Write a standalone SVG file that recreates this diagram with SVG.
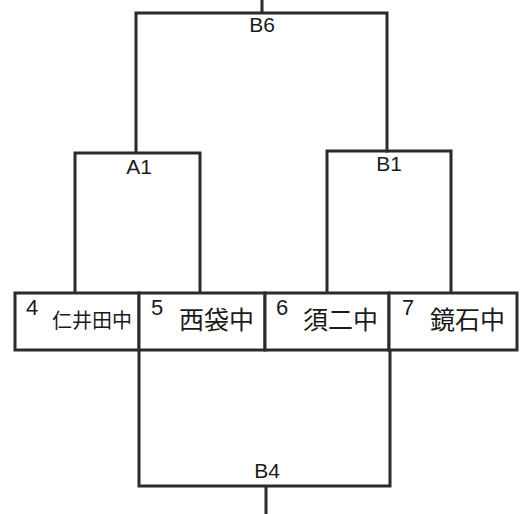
<svg xmlns="http://www.w3.org/2000/svg" width="523" height="514" viewBox="0 0 523 514">
<style>
.ln{fill:none;stroke:#2b2b2b;stroke-width:3;stroke-linecap:square}
.box{fill:#fff;stroke:#2b2b2b;stroke-width:3}
.lab{font-family:"Liberation Sans",Arial,sans-serif;font-size:21px;fill:#1a1a1a;text-anchor:middle}
.num{font-family:"Liberation Sans",Arial,sans-serif;font-size:22px;fill:#1a1a1a}
.jp{font-family:"Noto Sans CJK JP","Noto Sans CJK SC",sans-serif;fill:#1a1a1a}
</style>
<rect width="523" height="514" fill="#fff"/>
<g id="connectors">
<path class="ln" d="M262 0V13M136 152V13H387V151"/>
<path class="ln" d="M75 293V153H200V293"/>
<path class="ln" d="M327 293V151H451V293"/>
<path class="ln" d="M139 350V486H390V350M266 486V514"/>
</g>
<g id="labels">
<text class="lab" x="262" y="32">B6</text>
<text class="lab" x="139" y="174">A1</text>
<text class="lab" x="389" y="171">B1</text>
<text class="lab" x="267" y="478">B4</text>
</g>
<g id="team4">
<rect class="box" x="15" y="293" width="124" height="57"/>
<text class="num" x="26" y="315">4</text>
<text class="jp" x="52" y="328" font-size="20">仁井田中</text>
</g>
<g id="team5">
<rect class="box" x="139" y="293" width="126" height="57"/>
<text class="num" x="151" y="315">5</text>
<text class="jp" x="179" y="329" font-size="25">西袋中</text>
</g>
<g id="team6">
<rect class="box" x="265" y="293" width="124" height="57"/>
<text class="num" x="276" y="315">6</text>
<text class="jp" x="303" y="329" font-size="25">須二中</text>
</g>
<g id="team7">
<rect class="box" x="389" y="293" width="128" height="57"/>
<text class="num" x="402" y="315">7</text>
<text class="jp" x="430" y="329" font-size="25">鏡石中</text>
</g>
</svg>
